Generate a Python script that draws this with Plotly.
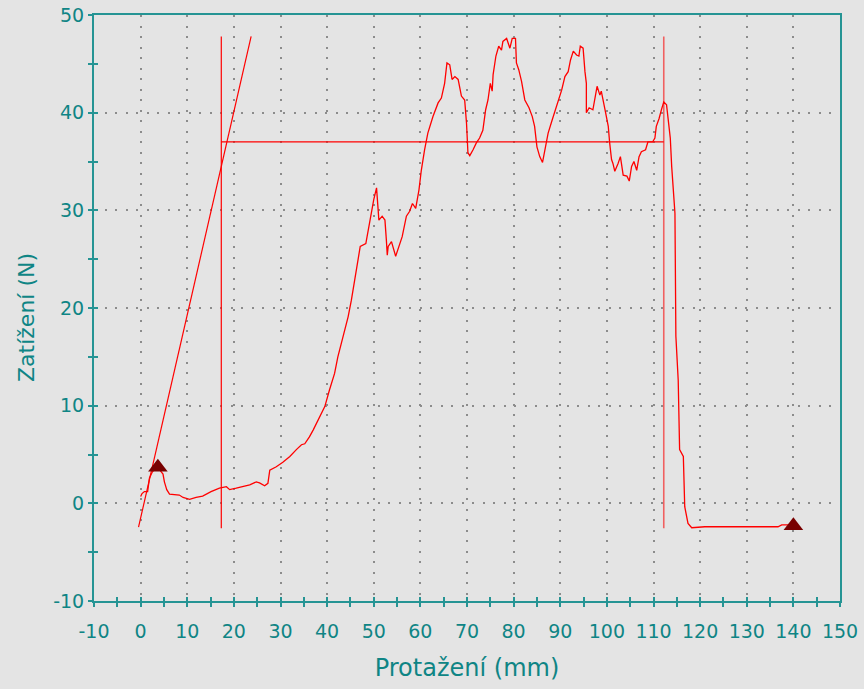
import plotly.graph_objects as go

# ---- data ----
curve_x = [0.0, 0.3, 0.8, 1.5, 1.9, 2.5, 3.2, 3.8, 4.3, 4.8, 5.1, 5.6, 6.2, 8.3, 9.1, 10.5, 11.9, 13.3, 15.1,
           16.9, 18.4, 19.1, 20.5, 21.9, 23.4, 24.8, 25.5, 26.6, 27.3, 27.7, 29.1, 30.5, 32.0, 33.4, 34.5,
           35.2, 36.2, 37.0, 37.7, 39.5, 40.5, 41.6, 42.3, 43.4, 44.5, 45.2, 45.9, 46.6, 47.1, 48.3, 48.8,
           49.5, 50.0, 50.6, 50.9, 51.1, 51.8, 52.4, 52.7, 52.9, 53.1, 53.8, 54.7, 55.4, 56.1, 57.0, 57.7,
           58.3, 59.0, 59.7, 60.2, 60.9, 61.6, 62.7, 63.8, 64.5, 65.2, 65.7, 66.3, 66.8, 67.4, 68.1, 68.8,
           69.5, 69.9, 70.2, 70.6, 71.3, 72.0, 72.7, 73.4, 74.0, 74.5, 75.0, 75.4, 75.6, 76.2, 76.8, 77.4,
           77.7, 78.5, 79.2, 79.7, 80.4, 80.6, 81.1, 81.7, 82.4, 83.3, 84.0, 84.5, 85.0, 85.6, 86.2, 86.7,
           87.4, 88.3, 89.2, 89.9, 90.3, 91.0, 91.7, 92.2, 92.8, 93.5, 94.0, 94.3, 94.9, 95.3, 95.6, 95.6,
           96.2, 97.0, 97.4, 97.9, 98.5, 98.8, 99.6, 100.3, 100.6, 101.0, 101.3, 101.7, 102.4, 102.9, 103.5,
           104.3, 104.8, 105.3, 105.8, 106.4, 106.9, 107.4, 108.3, 108.8, 109.8, 110.3, 110.6, 111.2, 111.7,
           112.2, 112.8, 113.1, 113.6, 113.9, 114.2, 114.6, 114.8, 115.3, 115.6, 116.4, 116.7, 117.4, 118.2,
           121.0, 136.7, 137.5, 140.0]
curve_y = [0.7, 1.0, 1.2, 1.2, 2.6, 3.2, 3.6, 3.6, 3.3, 3.0, 2.2, 1.4, 0.95, 0.85, 0.6, 0.41, 0.6, 0.75, 1.2,
           1.55, 1.7, 1.4, 1.55, 1.7, 1.9, 2.2, 2.1, 1.8, 2.05, 3.4, 3.75, 4.2, 4.8, 5.5, 6.0,
           6.1, 6.8, 7.5, 8.2, 9.9, 11.6, 13.3, 15.0, 17.1, 19.1, 20.8, 22.9, 24.8, 26.3, 26.6, 28.0,
           29.9, 31.1, 32.3, 30.4, 29.0, 29.4, 29.0, 27.0, 25.4, 26.3, 26.8, 25.3, 26.3, 27.3, 29.4, 29.9,
           30.7, 30.2, 32.1, 34.1, 36.2, 37.9, 39.6, 41.0, 41.5, 43.0, 45.1, 44.9, 43.4, 43.7, 43.4, 41.7,
           41.3, 38.9, 35.9, 35.6, 36.2, 36.9, 37.4, 38.2, 40.3, 41.3, 43.0, 42.2, 43.9, 45.8, 46.8, 46.4,
           47.3, 47.6, 46.6, 47.6, 47.6, 45.1, 44.4, 43.2, 41.3, 40.5, 39.6, 38.6, 36.5, 35.5, 34.9, 36.2,
           37.9, 39.3, 40.6, 41.7, 42.3, 43.7, 44.2, 45.4, 46.3, 45.9, 45.8, 46.8, 46.6, 44.2, 43.0, 40.0,
           40.5, 40.3, 41.3, 42.7, 41.8, 42.2, 40.3, 38.6, 36.9, 35.2, 34.8, 34.0, 34.8, 35.5, 33.6,
           33.5, 33.0, 34.5, 35.0, 34.1, 35.5, 36.0, 36.2, 37.0, 37.0, 37.4, 38.6, 39.4, 40.3,
           41.1, 40.8, 39.3, 37.4, 34.5, 32.1, 29.7, 17.1, 12.6, 5.5, 4.8, -0.35, -2.05, -2.5,
           -2.4, -2.4, -2.2, -2.2]

tangent_x = [-0.45, 23.7]
tangent_y = [-2.43, 47.8]
left_cursor_x = [17.3, 17.3]
right_cursor_x = [112.2, 112.2]
cursor_y = [-2.56, 47.8]
level_x = [17.3, 112.2]
level_y = [37.0, 37.0]
marker_x = [3.7, 140.0]
marker_y = [3.7, -2.3]

x_ticks = list(range(-10, 151, 10))
y_ticks = list(range(-10, 51, 10))
x_title = "Protažení (mm)"
y_title = "Zatížení (N)"

TEAL_TEXT = "#0f8585"
TEAL_LINE = "#259494"
BG = "#e4e4e4"
RED = "#ff0000"

fig = go.Figure()
fig.add_trace(go.Scatter(x=tangent_x, y=tangent_y, mode="lines", line=dict(color=RED, width=1.2)))
fig.add_trace(go.Scatter(x=left_cursor_x, y=cursor_y, mode="lines", line=dict(color=RED, width=1.2)))
fig.add_trace(go.Scatter(x=right_cursor_x, y=cursor_y, mode="lines", line=dict(color="#f06060", width=1.6)))
fig.add_trace(go.Scatter(x=level_x, y=level_y, mode="lines", line=dict(color=RED, width=1.2)))
fig.add_trace(go.Scatter(x=curve_x, y=curve_y, mode="lines", line=dict(color=RED, width=1.3)))
fig.add_trace(go.Scatter(x=marker_x, y=marker_y, mode="markers",
                         marker=dict(symbol="triangle-up", size=17, color="#780000")))
# invisible trace for overlay axes (inside ticks)
fig.add_trace(go.Scatter(x=[0], y=[0], xaxis="x2", yaxis="y2", mode="markers",
                         marker=dict(opacity=0), hoverinfo="skip"))

font_family = "DejaVu Sans, Verdana, sans-serif"
grid = dict(showgrid=True, gridcolor="#8c8c8c", gridwidth=2, griddash="2px,8.5px")

fig.update_layout(
    width=864, height=689,
    margin=dict(l=94, r=24, t=15, b=88),
    paper_bgcolor=BG, plot_bgcolor=BG,
    showlegend=False,
    font=dict(family=font_family, color=TEAL_TEXT, size=19),
    xaxis=dict(range=[-10, 150], tickvals=x_ticks, ticktext=[str(v) for v in x_ticks],
               ticks="outside", ticklen=4, tickwidth=1.5, tickcolor=TEAL_LINE, automargin=False,
               ticklabelstandoff=8,
               minor=dict(dtick=5, tick0=0, ticks="outside", ticklen=4, tickwidth=1.5, tickcolor=TEAL_LINE, showgrid=False),
               showline=True, linecolor=TEAL_LINE, linewidth=2, mirror=True, zeroline=False,
               title=dict(text=x_title, font=dict(size=24, color=TEAL_TEXT), standoff=18),
               tickfont=dict(size=19, color=TEAL_TEXT), **grid),
    yaxis=dict(range=[-10, 50], tickvals=y_ticks, ticktext=[str(v) for v in y_ticks],
               ticks="outside", ticklen=4, tickwidth=1.5, tickcolor=TEAL_LINE, automargin=False,
               minor=dict(dtick=5, tick0=0, ticks="outside", ticklen=4, tickwidth=1.5, tickcolor=TEAL_LINE, showgrid=False),
               showline=True, linecolor=TEAL_LINE, linewidth=2, mirror=True, zeroline=False,
               tickfont=dict(size=19, color=TEAL_TEXT), **grid),
    xaxis2=dict(range=[-10, 150], overlaying="x", anchor="y2", tickvals=x_ticks, showticklabels=False,
                ticks="inside", ticklen=4, tickwidth=1.5, tickcolor=TEAL_LINE, automargin=False,
                minor=dict(dtick=5, tick0=0, ticks="inside", ticklen=4, tickwidth=1.5, tickcolor=TEAL_LINE),
                showgrid=False, zeroline=False, showline=False),
    yaxis2=dict(range=[-10, 50], overlaying="y", anchor="x2", tickvals=y_ticks, showticklabels=False,
                ticks="inside", ticklen=4, tickwidth=1.5, tickcolor=TEAL_LINE, automargin=False,
                minor=dict(dtick=5, tick0=0, ticks="inside", ticklen=4, tickwidth=1.5, tickcolor=TEAL_LINE),
                showgrid=False, zeroline=False, showline=False),
    annotations=[dict(text=y_title, xref="paper", yref="paper", x=-0.0898, y=0.483,
                      xanchor="center", yanchor="middle", textangle=-90, showarrow=False,
                      font=dict(size=22, color=TEAL_TEXT, family=font_family))],
)

fig.write_html("out.html")
